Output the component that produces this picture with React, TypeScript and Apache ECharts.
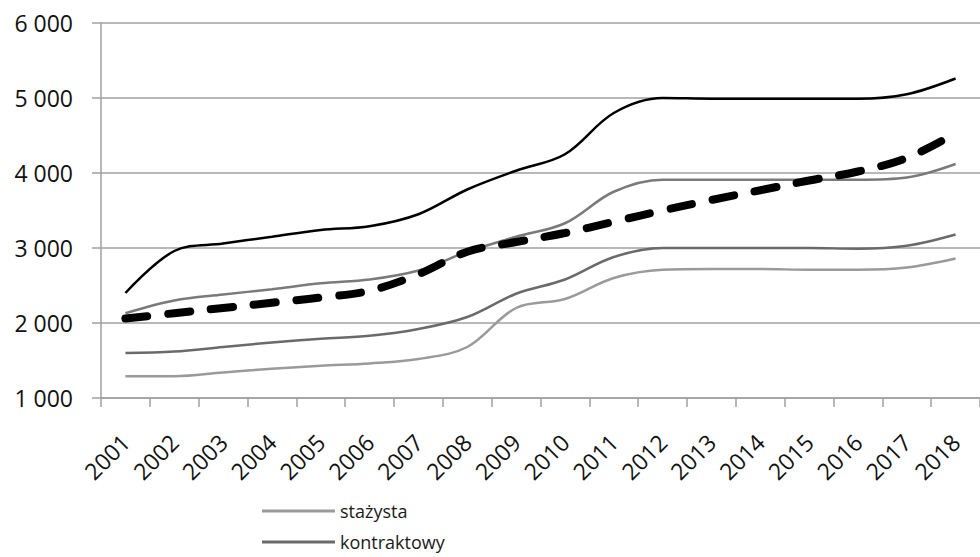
import React, { useEffect, useRef } from "react";
import * as echarts from "echarts";

const years = ["2001","2002","2003","2004","2005","2006","2007","2008","2009","2010","2011","2012","2013","2014","2015","2016","2017","2018"];
const stazysta = [1290,1290,1340,1390,1430,1460,1520,1680,2200,2320,2600,2710,2720,2720,2710,2710,2740,2860];
const kontraktowy = [1600,1620,1680,1740,1790,1830,1920,2080,2390,2580,2880,3000,3000,3000,3000,2990,3030,3180];
const mianowany = [2130,2300,2380,2450,2530,2580,2700,2950,3150,3330,3750,3910,3910,3910,3910,3910,3940,4120];
const dyplomowany = [2400,2960,3060,3150,3240,3290,3450,3780,4030,4250,4800,5000,4990,4990,4990,4990,5050,5260];
const przecietne = [2060,2130,2200,2270,2340,2430,2650,2950,3080,3200,3350,3500,3640,3770,3900,4020,4200,4530];
const yTicks = [1000, 2000, 3000, 4000, 5000, 6000];
const legendNames = ["stażysta", "kontraktowy"];

const FONT = "'Open Sans', 'Noto Sans', sans-serif";

export default function App() {
  const ref = useRef<HTMLDivElement>(null);
  useEffect(() => {
    if (!ref.current) return;
    const chart = echarts.init(ref.current, null, { renderer: "svg" });
    const fmt = (v: number) => String(v).replace(/\B(?=(\d{3})+(?!\d))/g, " ");
    const line = (name: string, data: number[], color: string, width: number, extra: any = {}) => ({
      name,
      type: "line",
      data,
      smooth: 0.35,
      symbol: "none",
      itemStyle: { color },
      lineStyle: { color, width, ...extra },
    });
    const legendTops = [502, 533];
    chart.setOption({
      animation: false,
      backgroundColor: "#ffffff",
      textStyle: { fontFamily: FONT },
      grid: { left: 101, top: 23, width: 886, height: 375 },
      legend: legendNames.map((n, i) => ({
        orient: "vertical",
        left: 262,
        top: legendTops[i],
        padding: 0,
        itemWidth: 73,
        itemHeight: 3,
        itemGap: 8,
        icon: "rect",
        data: [n],
        textStyle: { fontFamily: FONT, fontSize: 18, color: "#1a1a1a", padding: [0, 0, 0, 0] },
      })),
      xAxis: {
        type: "category",
        data: years,
        boundaryGap: true,
        axisLine: { show: true, lineStyle: { color: "#a0a0a0", width: 1.5 } },
        axisTick: { show: true, length: 9, lineStyle: { color: "#a0a0a0", width: 1.5 } },
        axisLabel: { rotate: 45, fontSize: 23, color: "#111111", margin: 40, fontFamily: FONT, interval: 0 },
        splitLine: { show: false },
      },
      yAxis: {
        type: "value",
        min: yTicks[0],
        max: yTicks[yTicks.length - 1],
        interval: 1000,
        axisLine: { show: true, lineStyle: { color: "#a0a0a0", width: 1.5 } },
        axisTick: { show: true, length: 9, lineStyle: { color: "#a0a0a0", width: 1.5 } },
        axisLabel: { fontSize: 23, color: "#111111", margin: 28, formatter: fmt, fontFamily: FONT },
        splitLine: { show: true, lineStyle: { color: "#a0a0a0", width: 1.5 } },
      },
      series: [
        line("stażysta", stazysta, "#9a9a9a", 2.5),
        line("kontraktowy", kontraktowy, "#6a6a6a", 2.5),
        line("mianowany", mianowany, "#7a7a7a", 2.5),
        line("dyplomowany", dyplomowany, "#000000", 2.5),
        line("przeciętne wynagrodzenie", przecietne, "#000000", 8, { type: [22, 21], cap: "round" }),
      ],
    });
    return () => chart.dispose();
  }, []);
  return <div ref={ref} style={{ width: 980, height: 557, position: "absolute", left: 0, top: 0 }} />;
}
